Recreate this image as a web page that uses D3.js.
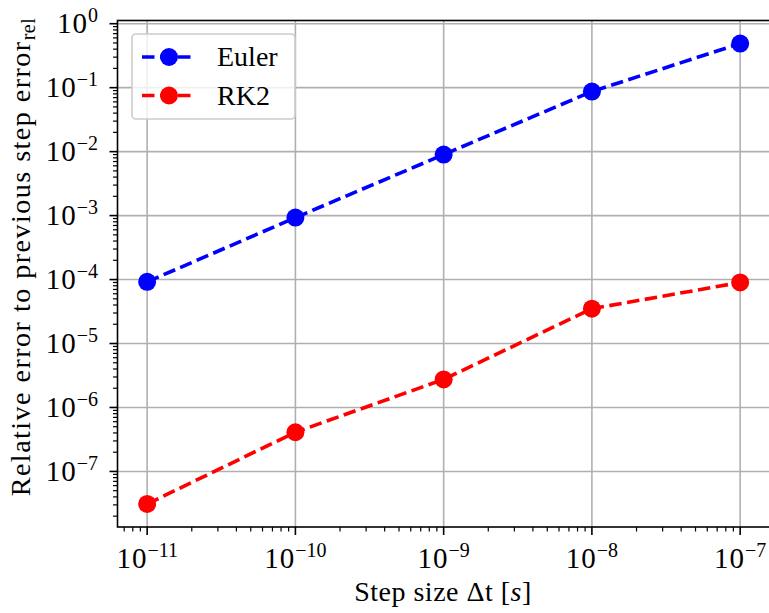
<!DOCTYPE html>
<html><head><meta charset="utf-8">
<script src="https://cdn.jsdelivr.net/npm/d3@7"></script>
<style>body{margin:0;background:#fff}svg{display:block}</style>
</head><body>
<svg id="c" width="769" height="613"></svg>
<script>
const stepSizes = [1e-11, 1e-10, 1e-9, 1e-8, 1e-7];
const eulerErr = [9.2e-5, 9.3e-4, 9.0e-3, 8.7e-2, 0.49];
const rk2Err = [3.1e-8, 4.1e-7, 2.75e-6, 3.5e-5, 9.0e-5];
const seriesNames = ["Euler", "RK2"];
const xTickExps = [-11, -10, -9, -8, -7];
const yTickExps = [0, -1, -2, -3, -4, -5, -6, -7];

const svg = d3.select("#c");
const FF = '"Liberation Serif", "Times New Roman", serif';
const L = 117.5, R = 769.8, T = 20.5, B = 527;
const fs = 28, sfs = 20, tfs = 29;

function logDomain(vals) {
  const lg = vals.map(Math.log10);
  const lo = d3.min(lg), hi = d3.max(lg), m = (hi - lo) * 0.05;
  return [Math.pow(10, lo - m), Math.pow(10, hi + m)];
}
const x = d3.scaleLog().domain(logDomain(stepSizes)).range([L, R]);
const y = d3.scaleLog().domain(logDomain(eulerErr.concat(rk2Err))).range([B, T]);

// grid
const g = svg.append("g");
g.selectAll(".gx").data(xTickExps).enter().append("line")
  .attr("x1", d => x(Math.pow(10, d))).attr("x2", d => x(Math.pow(10, d)))
  .attr("y1", T).attr("y2", B).attr("stroke", "#b0b0b0").attr("stroke-width", 1.6);
g.selectAll(".gy").data(yTickExps.filter(e => { const v = Math.pow(10, e); return v >= y.domain()[0] && v <= y.domain()[1]; })).enter().append("line")
  .attr("y1", d => y(Math.pow(10, d))).attr("y2", d => y(Math.pow(10, d)))
  .attr("x1", L).attr("x2", R).attr("stroke", "#b0b0b0").attr("stroke-width", 1.6);

// series
const series = [
  {name: seriesNames[0], vals: eulerErr, color: "#0000ff"},
  {name: seriesNames[1], vals: rk2Err, color: "#ff0000"}
];
const line = d3.line().x(d => x(d[0])).y(d => y(d[1]));
series.forEach(s => {
  const pts = stepSizes.map((t, i) => [t, s.vals[i]]);
  svg.append("path").attr("d", line(pts)).attr("fill", "none").attr("stroke", s.color)
    .attr("stroke-width", 3.6).attr("stroke-dasharray", "12.5,5.5");
  svg.selectAll(null).data(pts).enter().append("circle")
    .attr("cx", d => x(d[0])).attr("cy", d => y(d[1])).attr("r", 9).attr("fill", s.color);
});

// axes frame
const ax = svg.append("g");
ax.append("rect").attr("x", L).attr("y", T).attr("width", R - L).attr("height", B - T)
  .attr("fill", "none").attr("stroke", "#000").attr("stroke-width", 1.6);

function txt(sel, size) { return sel.append("text").style("font-family", FF).style("font-size", (size || fs) + "px").attr("fill", "#000"); }

// x ticks
const xd = x.domain();
const xMinor = [];
for (let e = -12; e <= -6; e++) for (let k = 2; k <= 9; k++) { const v = k * Math.pow(10, e); if (v >= xd[0] && v <= xd[1]) xMinor.push(v); }
ax.selectAll(".xm").data(xMinor).enter().append("line")
  .attr("x1", d => x(d)).attr("x2", d => x(d)).attr("y1", B).attr("y2", B + 4.5)
  .attr("stroke", "#000").attr("stroke-width", 1.2);
ax.selectAll(".xM").data(xTickExps).enter().append("line")
  .attr("x1", d => x(Math.pow(10, d))).attr("x2", d => x(Math.pow(10, d))).attr("y1", B).attr("y2", B + 8)
  .attr("stroke", "#000").attr("stroke-width", 1.6);
xTickExps.forEach(e => {
  const t = txt(ax, tfs).attr("x", x(Math.pow(10, e))).attr("y", 568).attr("text-anchor", "middle");
  t.append("tspan").style("letter-spacing", "1px").text("10");
  t.append("tspan").attr("dy", -11).style("font-size", sfs + "px").text("\u2212" + Math.abs(e));
});

// y ticks
const yd = y.domain();
const yMinor = [];
for (let e = -9; e <= 1; e++) for (let k = 2; k <= 9; k++) { const v = k * Math.pow(10, e); if (v >= yd[0] && v <= yd[1]) yMinor.push(v); }
ax.selectAll(".ym").data(yMinor).enter().append("line")
  .attr("y1", d => y(d)).attr("y2", d => y(d)).attr("x1", L).attr("x2", L - 4.5)
  .attr("stroke", "#000").attr("stroke-width", 1.2);
ax.selectAll(".yM").data(yTickExps).enter().append("line")
  .attr("y1", d => y(Math.pow(10, d))).attr("y2", d => y(Math.pow(10, d))).attr("x1", L).attr("x2", L - 8)
  .attr("stroke", "#000").attr("stroke-width", 1.6);
yTickExps.forEach(e => {
  const t = txt(ax, tfs).attr("x", 98).attr("y", y(Math.pow(10, e)) + 9.5).attr("text-anchor", "end");
  t.append("tspan").style("letter-spacing", "1px").text("10");
  t.append("tspan").attr("dy", -11).style("font-size", sfs + "px").text(e === 0 ? "0" : "\u2212" + Math.abs(e));
});

// axis labels
const xl = txt(svg).attr("x", 443).attr("y", 601).attr("text-anchor", "middle").style("letter-spacing", "0.5px");
xl.append("tspan").text("Step size \u0394t [");
xl.append("tspan").style("font-style", "italic").text("s");
xl.append("tspan").text("]");

const yl = txt(svg).attr("transform", `translate(30,257) rotate(-90)`).attr("text-anchor", "middle").style("letter-spacing", "1.5px");
yl.append("tspan").text("Relative error to previous step error");
yl.append("tspan").attr("dy", 5).style("font-size", sfs + "px").style("letter-spacing", "0.5px").text("rel");

// legend
const lg = svg.append("g");
lg.append("rect").attr("x", 132).attr("y", 34).attr("width", 163).attr("height", 85).attr("rx", 4)
  .attr("fill", "#fff").attr("fill-opacity", 0.8).attr("stroke", "#cccccc").attr("stroke-width", 1.6);
series.forEach((s, i) => {
  const cy = 57 + i * 38.5;
  lg.append("line").attr("x1", 142).attr("x2", 196).attr("y1", cy).attr("y2", cy)
    .attr("stroke", s.color).attr("stroke-width", 3.6).attr("stroke-dasharray", "12.5,5.5");
  lg.append("circle").attr("cx", 169).attr("cy", cy).attr("r", 9).attr("fill", s.color);
  txt(lg).attr("x", 217).attr("y", cy + 9).text(s.name);
});
</script>
</body></html>
